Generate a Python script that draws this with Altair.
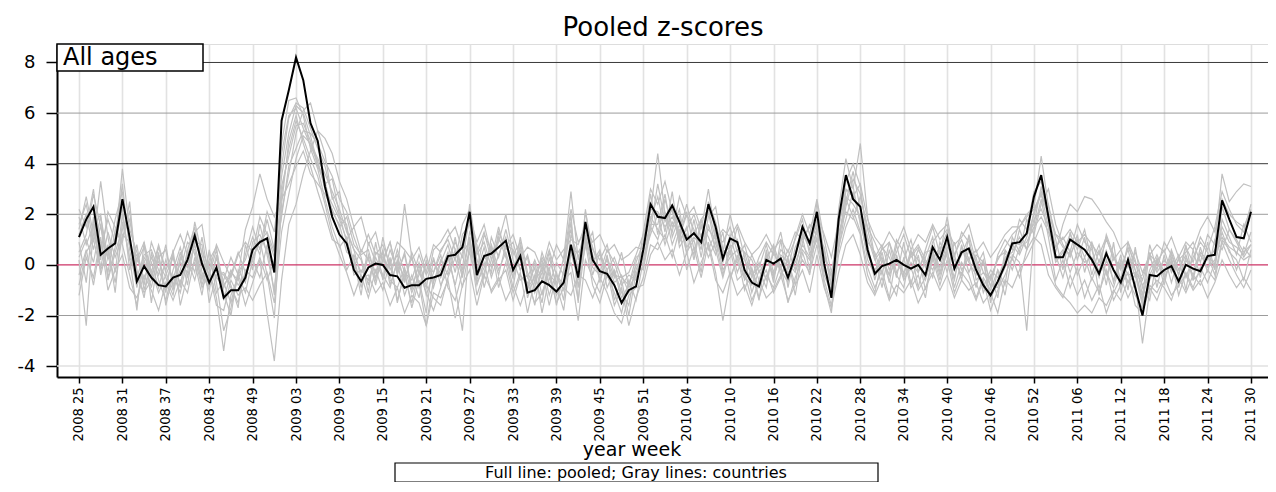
import altair as alt
import pandas as pd

# ---------------- data ----------------
tick_labels = ["2008 25", "2008 31", "2008 37", "2008 43", "2008 49",
               "2009 03", "2009 09", "2009 15", "2009 21", "2009 27", "2009 33",
               "2009 39", "2009 45", "2009 51",
               "2010 04", "2010 10", "2010 16", "2010 22", "2010 28", "2010 34",
               "2010 40", "2010 46", "2010 52",
               "2011 06", "2011 12", "2011 18", "2011 24", "2011 30"]

pooled = [1.1, 1.8, 2.3, 0.4, 0.65, 0.85, 2.6, 1.1, -0.65, -0.05,
          -0.5, -0.8, -0.85, -0.5, -0.4, 0.2, 1.15, 0.05, -0.7, -0.1,
          -1.3, -1.0, -1.0, -0.5, 0.6, 0.9, 1.05, -0.3, 5.7, 6.9,
          8.2, 7.3, 5.6, 4.9, 3.1, 1.9, 1.2, 0.85, -0.2, -0.65,
          -0.1, 0.05, 0.0, -0.4, -0.45, -0.9, -0.8, -0.8, -0.55, -0.5,
          -0.4, 0.35, 0.4, 0.7, 2.1, -0.4, 0.35, 0.45, 0.7, 0.95,
          -0.2, 0.35, -1.1, -1.0, -0.65, -0.8, -1.05, -0.7, 0.8, -0.5,
          1.7, 0.2, -0.25, -0.35, -0.8, -1.5, -1.0, -0.85, 0.6, 2.4,
          1.9, 1.85, 2.35, 1.7, 1.0, 1.25, 0.9, 2.4, 1.5, 0.25,
          1.05, 0.9, -0.2, -0.7, -0.85, 0.2, 0.05, 0.25, -0.5, 0.35,
          1.5, 0.85, 2.1, 0.05, -1.3, 1.8, 3.55, 2.6, 2.3, 0.6,
          -0.35, -0.05, 0.05, 0.2, 0.0, -0.15, 0.0, -0.4, 0.7, 0.2,
          1.1, -0.15, 0.5, 0.65, -0.2, -0.8, -1.2, -0.65, 0.0, 0.85,
          0.9, 1.25, 2.7, 3.55, 1.9, 0.3, 0.3, 1.0, 0.8, 0.6,
          0.2, -0.35, 0.45, -0.2, -0.7, 0.2, -0.9, -2.0, -0.4, -0.45,
          -0.2, -0.05, -0.65, 0.0, -0.15, -0.25, 0.35, 0.4, 2.55, 1.8,
          1.1, 1.05, 2.1]

g01 = [0.5, 1.2, 2.8, 1.5, 0.2, 1.0, 3.2, 0.6, -0.9, 0.3,
       -0.2, -1.1, -0.4, 0.3, -0.8, 0.6, 1.5, -0.3, -1.0, 0.4,
       -0.7, -1.5, -0.3, 0.2, 1.1, 0.4, 1.8, 0.6, 3.5, 5.2,
       6.3, 6.0, 5.1, 4.0, 3.3, 2.1, 1.6, 0.5, 0.3, -0.9,
       0.4, -0.3, 0.6, -0.8, 0.1, -1.2, -0.4, -1.3, 0.2, -0.9,
       0.1, 0.8, -0.3, 1.2, 1.6, 0.2, -0.5, 1.1, 0.3, 1.4,
       0.2, -0.6, -0.4, -1.6, 0.1, -1.2, -0.3, -1.4, 1.2, 0.3,
       1.1, -0.4, 0.5, -0.9, -0.2, -1.1, -1.6, 0.1, 0.9, 2.8,
       1.2, 2.6, 1.5, 2.2, 0.4, 1.8, 0.3, 1.9, 2.3, 0.6,
       0.4, 1.5, 0.3, -1.1, -0.2, -0.9, 0.7, -0.4, 0.2, -0.8,
       0.9, 1.6, 1.2, 0.7, -0.8, 0.9, 2.9, 3.1, 1.6, 0.8,
       -0.6, 0.5, -0.7, 0.8, -0.4, 0.6, -0.9, 0.3, 1.1, -0.3,
       0.7, 0.4, -0.6, 1.2, 0.1, -1.1, -0.4, -1.3, 0.6, 0.2,
       1.4, 0.6, 2.1, 2.9, 2.4, 1.0, -0.2, 1.3, 0.2, 1.1,
       -0.4, 0.6, -0.8, 0.9, -1.1, 0.3, -0.2, -1.5, 0.5, -0.9,
       0.4, -0.7, 0.3, -1.0, 0.6, -0.5, 0.9, -0.2, 1.8, 1.1,
       0.4, 1.6, 0.9]

g02 = [0.2, -2.4, 1.5, 2.0, -0.6, 0.5, 1.4, 2.1, -0.2, -1.3,
       0.5, -0.6, -1.4, -0.2, 0.7, -0.5, 0.9, 0.8, -1.5, -0.4,
       -0.3, -0.8, -1.7, 0.8, -0.2, 1.6, 0.4, -1.0, 2.1, 3.6,
       5.2, 6.1, 6.4, 5.3, 4.4, 2.6, 2.9, 1.4, 0.6, 0.2,
       -1.1, 0.9, -0.6, 0.3, -1.5, -0.2, -1.7, -0.6, -1.9, 0.3,
       -0.8, -0.2, 1.1, -0.4, 1.3, 0.8, -0.9, 0.2, 1.5, 0.4,
       -0.9, 0.8, -1.3, -0.4, -1.5, 0.3, -0.8, -1.8, 0.5, -0.6,
       0.7, 1.3, -0.7, 0.4, -1.4, -0.6, -2.0, -0.3, -0.1, 1.8,
       2.7, 1.3, 2.9, 0.9, 1.5, 0.2, 1.6, 1.1, 0.4, 1.3,
       -0.5, 0.2, 0.8, -0.3, -1.4, 0.6, -0.7, 1.0, -0.9, 0.5,
       1.1, -0.2, 2.5, 0.4, -0.5, 0.6, 2.3, 3.4, 2.8, 1.4,
       0.3, -0.9, 0.6, -0.5, 0.9, -0.8, 0.4, -1.0, 0.2, 0.7,
       -0.3, 0.9, -0.2, 0.3, -0.9, 0.2, -1.5, -0.2, -0.8, 1.1,
       0.5, 1.8, 1.2, 2.4, 3.0, 1.6, 0.8, 0.3, 1.2, -0.3,
       0.8, -1.2, 0.2, -0.6, 0.4, -1.0, 0.7, -0.9, -1.4, 0.3,
       -0.8, 0.5, -0.4, 0.8, -0.6, 0.7, -0.3, 1.0, 0.6, 1.4,
       0.9, 0.3, 0.8]

g03 = [1.6, 2.4, 0.9, 3.3, 1.1, -0.3, 2.0, 0.2, 0.4, -0.8,
       0.9, 0.1, -0.5, -1.2, 0.2, 1.3, 0.4, -0.6, 0.5, -1.1,
       -0.6, 0.3, -0.4, 1.4, 2.3, 3.6, 2.6, 1.9, 2.6, 3.2,
       3.9, 4.5, 3.6, 3.2, 2.8, 2.2, 1.5, 1.9, 0.8, 0.4,
       0.6, -0.5, 0.2, 0.9, -0.3, 0.4, -1.0, 0.1, -0.8, -1.3,
       -1.6, -0.5, 0.3, -0.9, 0.7, -0.2, 1.2, 0.6, -0.4, 0.8,
       0.6, -0.2, 0.4, -0.7, 0.3, -0.2, 0.8, 0.2, 2.2, 0.9,
       1.3, 0.4, -0.6, 0.3, -0.5, 0.5, -0.9, -0.4, 0.3, 1.2,
       2.0, 0.8, 1.7, 1.2, 2.1, 0.6, 1.2, 0.3, 0.9, -0.4,
       0.8, -0.3, 0.5, 0.2, -0.6, 0.3, -0.5, 0.4, 0.1, -0.3,
       0.6, 0.2, 1.0, -0.2, -0.7, 1.3, 2.1, 1.8, 2.7, 1.5,
       0.9, 0.2, -0.4, 1.0, 0.5, -0.2, 0.6, 0.1, -0.5, 0.9,
       0.3, -0.6, 0.8, -0.3, 0.4, 0.1, -0.6, 0.3, 0.5, -0.2,
       0.7, 0.9, 1.5, 1.9, 1.3, 0.5, 1.6, 2.4, 2.1, 2.7,
       2.6, 2.2, 1.7, 1.3, 0.6, 0.9, -0.2, -0.8, -0.4, 0.2,
       -0.5, 0.1, -0.7, 0.3, -0.2, 0.5, 0.2, 0.6, 1.1, 0.7,
       0.5, 0.2, 0.4]

g04 = [-0.4, 0.6, -0.8, 0.9, -0.3, 1.4, 0.8, -0.4, -1.6, 0.2,
       -0.9, 0.5, -1.6, -0.4, -1.1, 0.2, -0.6, 0.6, -0.2, -1.3,
       -3.4, -1.2, -0.5, -1.6, -0.7, 0.2, -1.9, -3.8, -0.6, 1.6,
       2.4, 3.6, 4.5, 5.3, 5.0, 4.4, 3.3, 2.6, 1.5, 1.9,
       0.8, 1.3, 0.1, 0.9, -0.4, 0.5, -0.9, 0.0, -1.2, -0.3,
       0.4, -0.9, -1.4, -0.3, 0.5, -0.8, 0.1, -1.1, -0.6, -0.2,
       -1.4, -0.4, -0.8, -0.1, -1.9, -0.5, -1.2, -0.6, -0.3, -2.2,
       0.2, -0.5, -1.1, -0.2, -1.6, -0.9, -2.4, -1.3, -0.5, 0.8,
       0.6, 1.2, 0.3, 1.4, -0.2, 0.7, -0.5, 0.9, -0.3, -2.2,
       -0.6, 0.4, -1.0, -0.1, -1.3, -0.4, -0.9, 0.0, -1.5, -0.5,
       0.2, -0.3, 0.8, -0.6, -1.6, 0.4, 1.5, 2.2, 1.3, -0.1,
       -0.9, -0.2, -1.3, 0.4, -0.6, -0.1, -1.0, -0.5, 0.3, -0.8,
       0.2, -1.1, -0.3, -0.7, -1.4, -0.6, -1.8, -1.0, -0.4, 0.3,
       -0.5, 0.6, 1.1, 0.8, -0.4, -0.9, -1.3, -0.4, -1.2, -0.6,
       -1.4, -0.8, -1.9, -1.1, -0.5, -1.3, -0.7, -3.1, -1.0, -0.6,
       -0.9, -1.4, -0.5, -1.1, -0.4, -0.8, -0.2, -0.6, 0.9, 0.2,
       -0.4, -0.9, -0.2]

g05 = [1.9, 0.8, 1.6, -0.1, 1.3, 0.3, 1.1, 1.8, 0.1, 0.7,
       -0.4, 0.3, 0.6, -0.8, 0.1, -0.3, 1.7, 0.4, -0.4, 0.6,
       -0.9, -0.2, -0.8, -0.4, 0.3, 0.9, 1.3, 0.5, 4.8, 6.5,
       6.6, 5.9, 4.6, 3.8, 2.6, 1.5, 0.7, 1.1, -0.4, -0.2,
       -0.6, 0.3, -0.4, -0.9, 0.2, -0.6, 0.3, -0.9, 0.1, -0.3,
       0.6, 1.0, 0.2, 1.6, 2.2, 0.4, 0.9, -0.1, 1.1, 0.3,
       -0.5, 1.1, -0.3, -0.9, 0.5, -0.4, -0.7, 0.2, 1.4, -0.2,
       2.1, 0.6, 0.2, 0.8, -0.4, -0.5, -0.3, 0.4, 1.2, 2.1,
       4.4, 2.0, 1.3, 2.7, 1.9, 2.3, 1.4, 3.0, 1.1, 0.9,
       1.5, 0.5, 0.2, -0.4, -0.1, 0.8, -0.3, 0.6, 0.3, 1.0,
       1.8, 0.4, 1.4, 0.6, -0.9, 2.2, 4.2, 3.0, 4.8, 1.9,
       0.3, 0.8, -0.2, 0.5, 1.2, 0.3, 0.7, -0.1, 0.9, 1.3,
       1.6, 0.4, 1.0, 0.2, 0.6, -0.3, -0.5, 0.2, 0.7, 1.2,
       1.5, 2.0, 2.3, 4.3, 2.3, 1.2, 0.7, 0.4, 1.0, 0.3,
       0.9, 0.1, 1.0, 0.3, -0.2, 0.7, 0.1, -0.6, 0.4, 0.1,
       0.6, -0.3, 0.2, 0.5, 0.9, 0.1, 1.2, 0.8, 3.6, 2.5,
       2.9, 3.2, 3.1]

g06 = [-1.2, 0.3, -0.5, 1.1, -1.0, -0.2, 0.4, -0.9, -1.3, -0.4,
       -1.0, -1.8, -0.7, -1.4, -0.6, -1.1, 0.3, -0.9, -0.3, -1.6,
       -1.8, -0.6, -1.2, -0.9, -1.4, -0.8, -0.3, -1.5, 1.3, 2.8,
       4.2, 5.1, 4.8, 4.2, 3.6, 2.9, 2.2, 1.3, 0.6, -0.5,
       -0.4, -1.1, -0.7, -1.6, -0.9, -1.9, -1.2, -1.5, -2.4, -1.1,
       -1.3, -0.6, -2.1, -0.8, -0.2, -1.6, -0.4, -1.0, -0.5, -1.4,
       -0.8, -1.6, -0.7, -1.5, -1.1, -0.3, -1.5, -0.9, -1.2, -0.4,
       -0.6, -1.3, -0.5, -1.1, -1.9, -2.3, -1.2, -0.9, -0.8, 0.4,
       0.9, 0.2, 0.6, -0.4, 0.5, -0.7, 0.1, 0.8, -0.6, -1.1,
       -0.3, -1.2, -0.8, -1.6, -0.6, -1.3, -1.0, -0.4, -1.4, -0.8,
       -0.2, -1.1, 0.4, -0.9, -1.7, -0.3, 0.8, 1.2, 0.4, -0.7,
       -1.2, -0.5, -1.4, -0.8, -1.1, -0.6, -1.5, -0.9, -0.3, -1.0,
       -0.4, -1.3, -0.6, -1.0, -0.7, -1.5, -1.1, -1.9, -0.6, -0.9,
       -0.2, 0.3, 0.9, 1.6, 0.4, -0.8, -1.2, -1.5, -1.9, -1.6,
       -1.9, -1.3, -1.6, -1.0, -1.4, -0.6, -1.2, -1.7, -0.8, -1.1,
       -0.5, -1.2, -0.8, -0.4, -1.0, -0.6, -1.3, -0.7, 0.2, -0.4,
       -0.9, -0.5, -1.0]

g07 = [2.2, 1.5, 3.0, 0.6, 1.8, 0.9, 3.8, 1.4, 0.5, -0.6,
       0.3, -0.4, 0.8, -0.9, -0.2, 0.9, 0.6, -0.8, 0.2, 0.7,
       -1.4, -0.3, -0.6, 0.4, 1.5, 0.6, 2.1, 1.3, 3.9, 5.8,
       6.4, 6.2, 5.4, 4.6, 3.9, 2.7, 1.9, 1.6, -0.1, 0.6,
       0.2, -0.6, 1.1, -0.2, 0.4, -0.7, 0.5, -0.3, -0.9, 0.6,
       0.9, 1.4, 0.6, -0.2, 2.4, 0.5, 1.3, 0.2, 0.9, 2.0,
       0.4, 0.9, -0.5, 0.2, -0.6, 0.5, -0.9, 0.3, 2.9, 0.2,
       1.5, 0.7, -0.3, 0.6, 0.1, -0.8, -0.4, -0.6, 1.3, 3.0,
       2.4, 3.3, 2.1, 1.1, 2.0, 1.4, 0.6, 2.5, 1.7, 0.5,
       2.0, 0.8, 0.5, -0.5, 0.3, 0.9, 0.4, 1.3, -0.2, 1.1,
       2.0, 1.2, 2.6, 1.0, -0.3, 1.4, 3.3, 4.0, 3.1, 0.9,
       0.5, -0.4, 0.9, -0.3, 0.2, 1.0, -0.3, 0.6, 1.5, 0.4,
       1.9, 0.3, 1.3, 0.9, -0.1, 0.5, -0.9, 0.4, 1.0, 0.6,
       1.8, 1.4, 2.9, 3.3, 2.0, 0.7, 1.1, 0.5, 1.6, 0.9,
       0.6, -0.3, 1.2, 0.4, -0.6, 0.9, 0.2, -1.2, 0.8, -0.2,
       0.9, 0.4, -0.4, 0.7, 0.1, 1.1, 0.6, 1.5, 2.9, 2.2,
       1.6, 1.3, 2.4]

g08 = [0.9, -0.7, 1.9, -0.4, 0.8, -1.1, 1.7, 0.3, -1.8, 0.9,
       -1.5, 0.4, -1.1, 0.6, -1.6, -0.4, 0.1, -1.2, 0.6, -0.7,
       -2.6, -1.7, -0.4, -1.1, 0.2, -0.5, 0.8, -1.2, 2.8, 4.6,
       5.7, 5.0, 4.2, 3.5, 2.4, 1.2, 0.4, -0.3, -1.2, -0.4,
       -1.3, -0.2, -1.0, 0.2, -1.4, -0.4, -1.5, -0.2, -1.1, -1.8,
       -0.9, 0.3, -0.8, 0.5, 0.9, -1.2, -0.3, 0.7, -0.9, 0.1,
       -1.1, -0.3, -1.9, -0.6, -0.2, -1.6, -0.4, -0.8, 0.1, -1.4,
       0.9, -0.8, -1.5, -0.4, -1.1, -1.9, -0.6, -1.4, 0.2, 1.5,
       1.0, 2.1, 0.8, 1.6, 0.5, 1.0, -0.3, 1.6, 0.6, -0.5,
       0.6, -0.6, -0.3, -1.4, -0.7, -0.2, -1.1, -0.5, 0.3, -1.2,
       0.5, -0.4, 1.5, -0.8, -1.9, 0.9, 2.6, 1.9, 1.2, -0.4,
       -1.1, 0.2, -0.6, -1.2, 0.3, -0.9, -0.4, -1.3, 0.5, -0.6,
       0.6, -0.9, 0.1, -0.4, -1.3, -0.5, -1.0, -0.2, -1.2, 0.4,
       0.1, -2.6, 1.4, 2.6, 1.1, -0.6, 0.2, -0.9, -0.1, -1.3,
       -0.5, -1.1, -0.2, -1.4, -0.8, -0.3, -1.6, -1.9, -0.9, -1.4,
       -0.6, 0.2, -1.2, -0.3, -0.9, -0.1, -0.7, 0.1, 1.3, 0.5,
       0.2, -0.6, 0.6]

g09 = [0.3, 1.0, 0.1, 1.6, -0.5, 0.7, 2.3, -0.2, 0.8, -1.0,
       0.1, -0.9, 0.2, -0.6, 0.5, -0.8, 1.0, 0.2, -0.9, 0.3,
       -1.1, -2.0, -0.2, -0.7, 0.9, 1.2, 0.5, -0.2, 3.1, 4.3,
       5.5, 5.6, 4.9, 3.9, 3.2, 3.4, 2.0, 0.9, 0.2, -1.2,
       0.9, 0.1, -0.5, 0.6, -0.2, 2.4, 0.3, -0.7, -2.4, -0.6,
       -0.2, 0.5, -0.9, -2.6, 1.0, -0.3, 0.7, -0.5, 0.4, 1.1,
       -0.3, 0.6, -1.0, 0.1, -1.2, -0.1, -1.6, -0.2, 2.0, -1.5,
       2.2, 0.1, 0.6, -0.5, -0.3, -1.3, -0.8, 0.3, 0.5, 1.6,
       1.6, 2.8, 1.1, 1.9, 0.7, 1.1, 0.8, 1.4, 1.0, 0.1,
       1.2, 0.1, -0.5, -0.8, 0.1, -0.6, 0.5, -0.2, -0.7, 0.7,
       1.3, 0.6, 1.8, -0.4, -1.1, 1.6, 2.7, 2.4, 1.9, 0.2,
       -0.4, 0.7, 0.3, -0.4, -0.9, 0.5, 0.2, -0.6, 0.4, -0.1,
       0.9, -0.2, 0.4, 1.1, -0.6, -0.3, -0.8, -0.9, 0.3, 0.5,
       1.1, 0.6, 1.8, 2.2, 1.5, 0.2, 0.6, -0.3, 0.5, 0.1,
       0.3, -0.5, 0.6, -0.7, 0.2, -0.4, -0.3, -1.3, -0.2, 0.4,
       -0.3, 0.3, -0.9, 0.2, -0.4, 0.4, -0.1, 0.2, 1.5, 0.9,
       0.7, 0.4, 1.3]

g10 = [1.4, 2.7, 1.2, 0.2, 2.1, 1.5, 0.9, 2.5, -0.5, 0.4,
       0.6, -0.2, -0.9, 0.4, -0.9, 0.5, -0.3, 1.1, -0.6, -0.2,
       -0.4, -0.9, -1.5, -0.2, -0.5, 0.3, -0.6, 0.2, 1.9, 3.9,
       4.6, 5.3, 5.2, 4.8, 4.1, 3.5, 2.6, 2.1, 1.1, 0.3,
       -0.8, 0.5, 0.3, -0.5, 0.6, -0.3, -0.6, 0.4, -0.4, 0.2,
       -0.5, 0.2, 0.9, 0.3, 1.8, -0.6, 0.4, -0.3, 1.3, 0.6,
       0.9, -0.2, 0.3, -1.1, -0.3, 0.6, -0.4, -1.0, 0.6, 0.5,
       1.0, 0.2, 0.4, -0.2, 0.3, -0.5, -0.8, 0.0, -0.2, 1.4,
       3.2, 1.7, 2.2, 1.0, 1.4, 2.0, 1.1, 2.1, 0.6, 0.5,
       0.7, 1.0, -0.4, 0.4, -0.3, 0.2, 0.8, -0.1, 0.6, -0.2,
       1.2, 0.8, 1.6, 0.3, -0.4, 1.0, 2.5, 3.7, 2.2, 1.1,
       0.2, 0.6, 0.9, 0.1, -0.3, 0.4, 0.8, 0.2, -0.2, 0.6,
       1.3, 0.2, -0.4, 0.6, 0.3, -0.9, -0.2, -0.5, 0.2, 0.8,
       0.4, 1.1, 2.0, 2.8, 1.5, 0.1, 0.5, 1.2, 0.6, 1.4,
       0.1, 0.8, -0.4, 0.3, -0.1, 0.6, -0.5, -0.4, 0.3, -0.3,
       0.2, -0.2, 0.4, -0.5, 0.3, 0.9, 0.5, -0.1, 2.3, 1.4,
       1.0, 0.5, 0.8]

g11 = [-0.8, 0.5, 1.0, -0.2, 0.6, -0.7, 1.2, 0.9, -0.4, -1.1,
       -0.6, 0.7, -0.3, -1.0, 0.3, -0.1, 0.8, -0.5, 0.1, -0.5,
       -0.8, -0.4, 0.5, -0.3, 0.2, 1.0, -0.4, -2.1, 2.4, 4.9,
       5.9, 4.8, 3.9, 2.9, 2.0, 1.0, 0.8, -0.2, 0.4, -0.3,
       0.3, -0.8, 0.5, -0.6, -0.9, -0.1, -1.1, -0.4, 0.4, -0.7,
       0.2, -0.4, 0.6, -0.5, 1.1, -0.7, -0.1, 0.8, -0.2, 0.5,
       -0.5, 0.4, -0.9, -0.5, 0.2, -0.8, 0.1, -0.4, 1.7, -0.9,
       1.2, -0.1, -0.4, 0.2, -0.7, -0.4, -1.1, -0.2, 0.7, 1.9,
       1.4, 1.0, 2.4, 0.7, 1.2, 0.4, 1.8, 0.6, 1.3, -0.2,
       0.3, 0.6, -0.6, -0.2, -0.9, 0.4, -0.4, 0.3, -0.3, 0.1,
       0.8, 0.3, 1.1, -0.2, -1.0, 0.7, 1.8, 2.9, 1.7, 0.4,
       -0.2, 0.3, -0.4, 0.2, -0.5, 0.1, -0.3, 0.5, 0.6, -0.4,
       0.5, -0.5, 0.7, 0.1, -0.4, 0.2, -1.3, -0.7, -0.1, 0.9,
       0.8, 1.3, 1.6, 3.1, 1.8, 0.4, -0.5, 0.6, -0.4, 0.3,
       -0.6, 0.2, -0.3, -0.9, 0.1, -0.7, -0.4, -1.6, -0.6, 0.1,
       -0.4, 0.6, -0.2, 0.4, -0.6, -0.3, 0.4, -0.4, 1.0, 0.6,
       -0.2, 0.7, 0.3]

g12 = [1.2, 2.0, 0.6, 1.9, 0.3, 1.8, 2.9, 0.8, 0.2, 0.9,
       -0.3, 0.8, -0.2, 0.5, 1.2, 0.4, 1.3, 1.6, -0.2, 0.8,
       0.1, -0.5, 0.4, 0.9, 0.5, 1.9, 1.2, 0.3, 4.4, 5.9,
       6.2, 5.4, 4.7, 4.1, 3.0, 2.4, 1.8, 1.0, 1.5, 0.5,
       1.2, 0.4, 0.8, 0.0, 0.9, 0.6, 0.2, 0.7, -0.3, 0.8,
       0.5, 1.1, 1.5, 0.6, 1.9, 0.9, 1.6, 0.4, 1.0, 0.7,
       1.2, 0.3, 0.7, 0.5, -0.2, 0.9, 0.2, 0.6, 1.0, 0.8,
       1.6, 0.9, 1.2, 0.5, 0.8, 0.2, 0.4, 0.7, 0.6, 2.2,
       2.1, 1.5, 1.9, 1.3, 2.4, 1.2, 1.8, 2.2, 1.0, 1.4,
       1.1, 1.6, 0.9, 0.4, 0.7, 1.2, 0.6, 1.0, 0.5, 1.3,
       1.0, 1.5, 2.0, 1.2, 0.3, 1.7, 3.0, 2.7, 3.2, 1.8,
       1.1, 0.7, 1.3, 0.8, 1.5, 0.6, 1.2, 0.9, 1.6, 1.0,
       1.4, 0.8, 1.1, 1.6, 0.5, 0.9, 0.3, 0.7, 1.2, 1.5,
       1.5, 1.9, 2.2, 2.8, 2.0, 1.2, 1.0, 1.4, 0.9, 1.2,
       0.8, 0.4, 1.1, 0.2, 0.6, -0.1, 0.5, -0.3, 0.4, 0.8,
       0.5, 1.1, 0.3, 0.9, 0.6, 1.4, 1.9, 1.3, 2.6, 2.0,
       1.7, 1.5, 2.2]

countries = [g01, g02, g03, g04, g05, g06, g07, g08, g09, g10, g11, g12]
for s in countries:
    assert len(s) == len(pooled), len(s)

# ---------------- tables ----------------
weeks = list(range(len(pooled)))
gray_rows = []
for k, series in enumerate(countries):
    for w, v in zip(weeks, series):
        gray_rows.append({"week": w, "z": v, "country": f"c{k + 1:02d}"})
gray_df = pd.DataFrame(gray_rows)
pooled_df = pd.DataFrame({"week": weeks, "z": pooled})
one = pd.DataFrame({"k": [0]})

label_expr = "[" + ",".join(f"'{s}'" for s in tick_labels) + "][round(datum.value / 6)]"
tick_values = [i * 6 for i in range(len(tick_labels))]

FONT = "DejaVu Sans"
xscale = alt.Scale(domain=[-3.04, 164.35], nice=False, zero=False)
yscale = alt.Scale(domain=[-4.43, 8.73], nice=False, zero=False)

x_axis = alt.Axis(values=tick_values, labelExpr=label_expr, labelAngle=270,
                  labelAlign="right", labelBaseline="middle",
                  labelFont="DejaVu Sans Condensed, DejaVu Sans, sans-serif",
                  labelFontSize=14.5,
                  labelColor="black", labelPadding=4, labelFlush=False,
                  labelOverlap=False, tickSize=6, tickWidth=1.5, tickColor="black",
                  domainColor="black", domainWidth=2, grid=True,
                  gridColor="#e2e2e2", gridWidth=1.6, title=None)
y_axis = alt.Axis(values=[-4, -2, 0, 2, 4, 6, 8], labelExpr="'' + datum.value",
                  labelFont=FONT, labelFontSize=18, labelColor="black",
                  labelPadding=11, labelFlush=False, tickSize=11, tickWidth=1.5,
                  tickColor="black", domainColor="black", domainWidth=2,
                  grid=False, title=None)

dark_rules = alt.Chart(pd.DataFrame({"z": [8, 4]})).mark_rule(
    color="#3a3a3a", strokeWidth=1).encode(y=alt.Y("z:Q", scale=yscale, axis=y_axis))
mid_rules = alt.Chart(pd.DataFrame({"z": [6, 2, -2]})).mark_rule(
    color="#9c9c9c", strokeWidth=1).encode(y=alt.Y("z:Q", scale=yscale, axis=y_axis))
light_rules = alt.Chart(pd.DataFrame({"z": [-4]})).mark_rule(
    color="#e0e0e0", strokeWidth=1.5).encode(y=alt.Y("z:Q", scale=yscale, axis=y_axis))
zero_rule = alt.Chart(pd.DataFrame({"z": [0]})).mark_rule(
    color="#cc3366", strokeWidth=1.2).encode(y=alt.Y("z:Q", scale=yscale, axis=y_axis))

gray = alt.Chart(gray_df).mark_line(color="#c0c0c0", strokeWidth=1.2).encode(
    x=alt.X("week:Q", scale=xscale, axis=x_axis),
    y=alt.Y("z:Q", scale=yscale, axis=y_axis),
    detail="country:N",
)
pooled_line = alt.Chart(pooled_df).mark_line(color="black", strokeWidth=2).encode(
    x=alt.X("week:Q", scale=xscale, axis=x_axis),
    y=alt.Y("z:Q", scale=yscale, axis=y_axis),
)

legend_box = alt.Chart(one).mark_rect(fill="white", stroke="black", strokeWidth=1.5).encode(
    x=alt.value(0), x2=alt.value(146), y=alt.value(0), y2=alt.value(27))
legend_text = alt.Chart(one).mark_text(font=FONT, fontSize=24, align="left",
                                       baseline="alphabetic", color="black").encode(
    x=alt.value(6), y=alt.value(21), text=alt.value("All ages"))

title_text = alt.Chart(one).mark_text(font=FONT, fontSize=26, align="center",
                                      baseline="alphabetic", color="black").encode(
    x=alt.value(606), y=alt.value(-8), text=alt.value("Pooled z-scores"))
xtitle_text = alt.Chart(one).mark_text(font=FONT, fontSize=19, align="center",
                                       baseline="alphabetic", color="black").encode(
    x=alt.value(575), y=alt.value(412), text=alt.value("year week"))
note_box = alt.Chart(one).mark_rect(fill="white", stroke="black", strokeWidth=1.2).encode(
    x=alt.value(338), x2=alt.value(821), y=alt.value(419), y2=alt.value(438))
note_text = alt.Chart(one).mark_text(font=FONT, fontSize=16, align="center",
                                     baseline="alphabetic", color="black").encode(
    x=alt.value(579), y=alt.value(434),
    text=alt.value("Full line: pooled; Gray lines: countries"))

chart = alt.layer(
    dark_rules, mid_rules, light_rules, zero_rule, gray, pooled_line,
    legend_box, legend_text, title_text, xtitle_text, note_box, note_text,
).properties(
    width=1211, height=333,
    autosize=alt.AutoSizeParams(type="none"),
    padding={"left": 49, "top": 36, "right": 0, "bottom": 105},
).configure_view(stroke="black", strokeWidth=1.5).configure(background="white")

chart.save("out.html", embed_options={"renderer": "svg", "actions": False})
